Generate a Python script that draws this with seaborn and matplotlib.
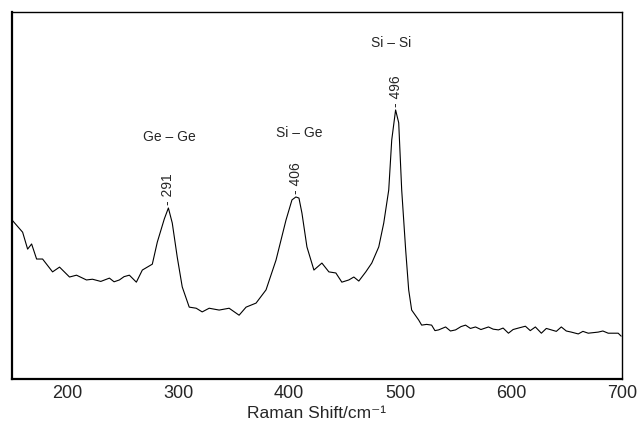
import numpy as np
import pandas as pd
import seaborn as sns
import matplotlib
matplotlib.use("Agg")
import matplotlib.pyplot as plt

# Raman spectrum (intensity in arbitrary units)
wavenumber = [150, 159.5, 164.0, 167.6, 172.1, 177.5, 186.5, 192.8, 201.8, 208.1,
              217.1, 222.5, 230.0, 237.8, 242.0, 246.8, 251.0, 255.8, 262.1, 267.5,
              276.5, 281.0, 287.3, 291.0, 294.5, 299.0, 303.5, 309.8, 316.1, 321.5,
              327.8, 336.8, 345.8, 354.8, 361.1, 370.1, 379.1, 388.1, 397.1, 402.5,
              406.0, 408.8, 411.5, 416.0, 422.3, 429.5, 435.8, 442.1, 447.5, 453.8,
              458.3, 462.8, 469.1, 474.5, 480.8, 485.3, 489.8, 492.5, 496.0, 498.8,
              501.5, 505.1, 507.8, 510.5, 516.8, 519.5, 524.0, 528.5, 531.5, 534.8,
              541.1, 545.5, 550.1, 555.0, 559.1, 563.5, 568.1, 573.0, 579.8, 584.0,
              588.8, 593.0, 597.8, 602.0, 606.8, 613.1, 617.5, 622.1, 627.5, 632.0,
              636.5, 641.0, 645.5, 650.0, 654.5, 660.8, 665.0, 669.8, 678.8, 683.0,
              687.8, 696.8, 699.5]
intensity = [43.3, 40.0, 35.4, 36.8, 32.7, 32.7, 29.2, 30.5, 27.8, 28.3,
             27.0, 27.2, 26.6, 27.5, 26.5, 27.0, 27.9, 28.3, 26.4, 29.7,
             31.3, 37.3, 43.6, 46.6, 42.5, 33.2, 25.1, 19.6, 19.3, 18.3,
             19.3, 18.8, 19.3, 17.4, 19.6, 20.7, 24.3, 32.4, 43.3, 48.8,
             49.6, 49.3, 45.2, 36.0, 29.7, 31.6, 29.2, 28.9, 26.4, 27.0,
             27.8, 26.7, 29.2, 31.6, 36.0, 42.5, 51.5, 65.1, 73.3, 69.8,
             51.5, 35.1, 24.3, 18.8, 16.1, 14.7, 14.9, 14.7, 13.2, 13.4,
             14.2, 13.1, 13.4, 14.3, 14.7, 13.8, 14.2, 13.5, 14.2, 13.6,
             13.4, 13.9, 12.5, 13.5, 13.9, 14.4, 13.2, 14.2, 12.5, 13.8,
             13.4, 13.0, 14.2, 13.1, 12.8, 12.3, 13.0, 12.5, 12.8, 13.1,
             12.5, 12.5, 11.7]

peak_pos = [291, 406, 496]
peak_height = [46.6, 49.6, 73.3]
bond_labels = ["Ge \u2013 Ge", "Si \u2013 Ge", "Si \u2013 Si"]
bond_x = [292, 409, 492]
bond_y = [66, 67, 91.6]

df = pd.DataFrame({"wavenumber": wavenumber, "intensity": intensity})

sns.set_style("white")
plt.rcParams["font.family"] = ["Liberation Sans", "DejaVu Sans"]

fig = plt.figure(figsize=(6.37, 4.25), dpi=100)
ax = fig.add_axes([0.019, 0.108, 0.957, 0.864])

sns.lineplot(data=df, x="wavenumber", y="intensity", color="black",
             linewidth=0.8, ax=ax)

for x, h in zip(peak_pos, peak_height):
    ax.annotate(f"- {x}", xy=(x, h), xytext=(0, 2), textcoords="offset points",
                rotation=90, ha="center", va="bottom", fontsize=10)

for lab, x, y in zip(bond_labels, bond_x, bond_y):
    ax.text(x, y, lab, ha="center", va="center", fontsize=10)

ax.set_xlim(150, 700)
ax.set_ylim(0, 100)
ax.set_xticks([200, 300, 400, 500, 600, 700])
ax.set_yticks([])
ax.tick_params(axis="x", length=0, labelsize=13, pad=4)
ax.set_xlabel("Raman Shift/cm\u207b\u00b9", fontsize=12.5, labelpad=3)
ax.set_ylabel("")
for side in ["left", "bottom"]:
    ax.spines[side].set_linewidth(1.6)
for side in ["top", "right"]:
    ax.spines[side].set_linewidth(1.0)
for s in ax.spines.values():
    s.set_color("black")

fig.savefig("out.png", dpi=100)
